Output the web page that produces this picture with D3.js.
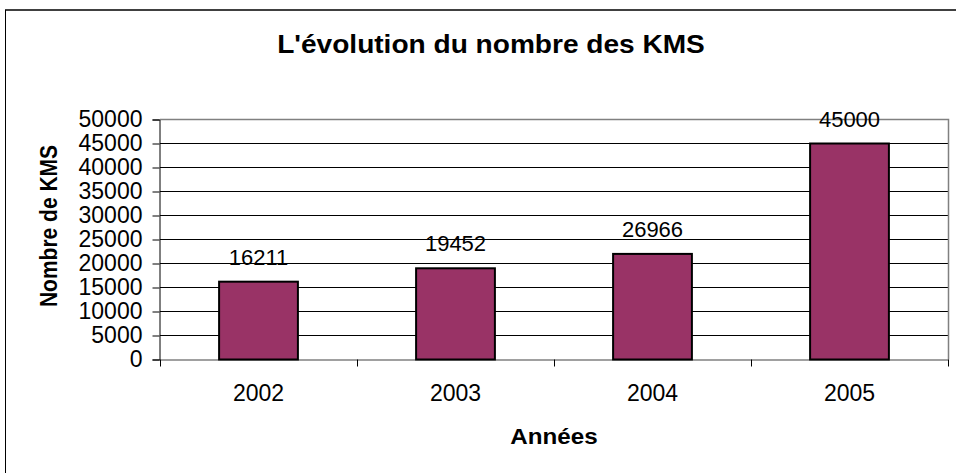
<!DOCTYPE html>
<html>
<head>
<meta charset="utf-8">
<script src="https://cdn.jsdelivr.net/npm/d3@7"></script>
<style>
  body { margin: 0; background: #fff; }
  svg { display: block; font-family: "Liberation Sans", Arial, sans-serif; }
</style>
</head>
<body>
<svg id="chart" width="956" height="473"></svg>
<script>
// data
const years = ['2002', '2003', '2004', '2005']
const barValues = [16211, 19000, 22000, 45000]   // bar heights as drawn
const valueLabels = ['16211', '19452', '26966', '45000'] // labels as printed
const yTicks = [0, 5000, 10000, 15000, 20000, 25000, 30000, 35000, 40000, 45000, 50000]

const svg = d3.select('#chart')

let margin = {top: 119.5, left: 160, right: 948, bottom: 359.5}

// outer chart frame (cut off at right and bottom)
svg.append('line').attr('x1', 5).attr('x2', 956).attr('y1', 10).attr('y2', 10)
    .attr('stroke', '#404040').attr('stroke-width', 2)
svg.append('line').attr('x1', 5.5).attr('x2', 5.5).attr('y1', 10).attr('y2', 473)
    .attr('stroke', '#000').attr('stroke-width', 1)

let x = d3.scaleBand().domain(years).range([margin.left, margin.right]).padding(0)
let y = d3.scaleLinear().domain([0, 50000]).range([margin.bottom, margin.top])

// gridlines
svg.append('g')
    .selectAll('line')
    .data(yTicks.filter(d => d > 0 && d < 50000))
    .enter()
    .append('line')
    .attr('x1', margin.left).attr('x2', margin.right)
    .attr('y1', d => y(d)).attr('y2', d => y(d))
    .attr('stroke', '#000').attr('stroke-width', 1)

// plot border top & right (gray)
svg.append('path')
    .attr('d', `M${margin.left},${y(50000)}H${margin.right + 0.5}V${margin.bottom}`)
    .attr('fill', 'none').attr('stroke', '#808080').attr('stroke-width', 1.5)

// y axis
let yAxis = svg.append('g')
    .attr('transform', `translate(${margin.left - 0.5},0)`)
    .call(d3.axisLeft(y).tickValues(yTicks).tickSize(7).tickPadding(10).tickFormat(d3.format('d')))
yAxis.select('.domain').attr('stroke', '#000')
yAxis.selectAll('.tick line').attr('stroke', '#000')
yAxis.selectAll('text').style('font-size', '23px').attr('fill', '#000')

// x axis
let xAxis = svg.append('g')
    .attr('transform', `translate(0,${margin.bottom})`)
    .call(d3.axisBottom(x).tickSize(0).tickPadding(25))
xAxis.select('.domain').attr('stroke', '#808080').attr('stroke-width', 1.5)
xAxis.selectAll('text').style('font-size', '23px').attr('fill', '#000')

// x tick marks at category boundaries
svg.append('g')
    .selectAll('line')
    .data(years.map(d => x(d)).concat([margin.right]))
    .enter()
    .append('line')
    .attr('x1', d => Math.round(d) + 0.5).attr('x2', d => Math.round(d) + 0.5)
    .attr('y1', margin.bottom).attr('y2', margin.bottom + 7)
    .attr('stroke', '#000')

// bars
let barW = x.bandwidth() * 0.4
svg.append('g')
    .selectAll('rect')
    .data(barValues)
    .enter()
    .append('rect')
    .attr('x', (d, i) => x(years[i]) + (x.bandwidth() - barW) / 2)
    .attr('y', d => y(d))
    .attr('width', barW)
    .attr('height', d => y(0) - y(d))
    .attr('fill', '#993366')
    .attr('stroke', '#000')
    .attr('stroke-width', 2)

// value labels
svg.append('g')
    .selectAll('text')
    .data(barValues)
    .enter()
    .append('text')
    .attr('x', (d, i) => x(years[i]) + x.bandwidth() / 2)
    .attr('y', d => y(d) - 17)
    .attr('text-anchor', 'middle')
    .style('font-size', '22px')
    .text((d, i) => valueLabels[i])

// title
svg.append('text')
    .attr('transform', 'translate(491,53) scale(1.08,1)')
    .attr('text-anchor', 'middle')
    .style('font-size', '26px').style('font-weight', 'bold')
    .text("L'évolution du nombre des KMS")

// axis titles
svg.append('text')
    .attr('transform', `translate(${(margin.left + margin.right) / 2},444) scale(1.1,1)`)
    .attr('text-anchor', 'middle')
    .style('font-size', '22px').style('font-weight', 'bold')
    .text('Années')

svg.append('text')
    .attr('transform', 'translate(57,226) rotate(-90) scale(1,1.1)')
    .attr('text-anchor', 'middle')
    .style('font-size', '21px').style('font-weight', 'bold')
    .text('Nombre de KMS')
</script>
</body>
</html>
